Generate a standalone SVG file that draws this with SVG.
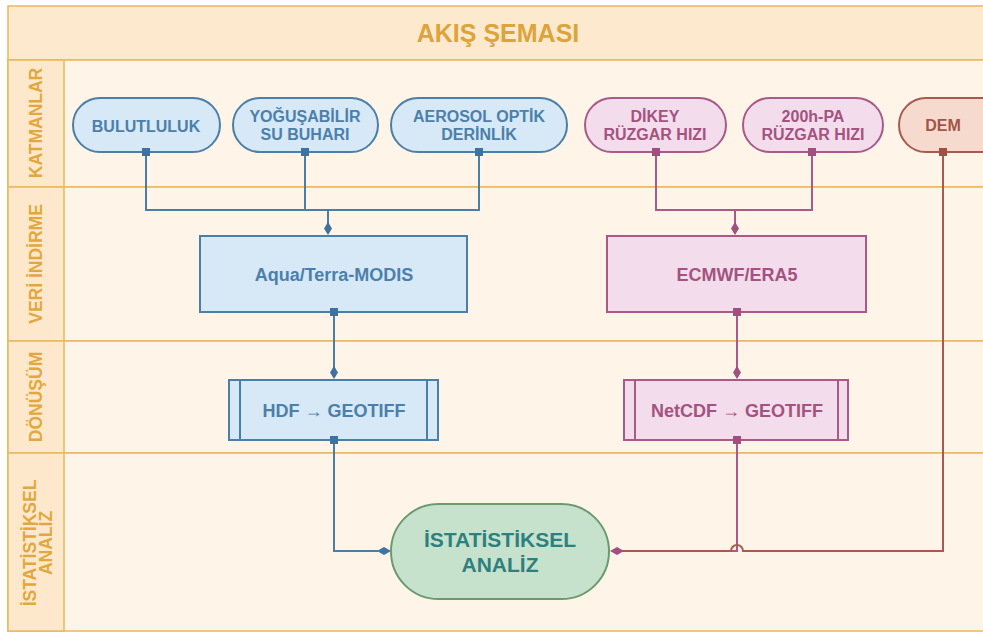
<svg xmlns="http://www.w3.org/2000/svg" width="983" height="633" viewBox="0 0 983 633">
<style>
.lane{fill:#fef5e8;stroke:#e9b85a;stroke-width:1.5}
.lab{fill:#fde8cb;stroke:#e9b85a;stroke-width:1.5}
.lt{font-family:"Liberation Sans",Arial,sans-serif;font-weight:bold;font-size:17.5px;fill:#e2a840;text-anchor:middle}
.t{font-family:"Liberation Sans",Arial,sans-serif;font-weight:bold;text-anchor:middle}
.s16{font-size:16px}
.s18{font-size:18px}
.bn{fill:#d7e8f7;stroke:#4b7fa6;stroke-width:2}
.bt{fill:#4a80ab}
.pn{fill:#f3dcec;stroke:#a85a88;stroke-width:2}
.pt{fill:#a4527f}
.dn{fill:#f6dace;stroke:#a85a50;stroke-width:2}
.dt{fill:#a4544a}
.gn{fill:#c6e2cc;stroke:#6b9a6e;stroke-width:2}
.gt{fill:#2e8080;font-size:21px}
.cb{fill:none;stroke:#4a7ea6;stroke-width:2}
.cp{fill:none;stroke:#a85a88;stroke-width:2}
.cd{fill:none;stroke:#a85a50;stroke-width:2}
.fb{fill:#3f72a0}
.fp{fill:#a14f80}
.fd{fill:#a04f45}
</style>
<rect x="0" y="0" width="983" height="633" fill="#ffffff"/>
<g id="pool">
<rect x="8" y="6" width="980" height="54" fill="#fde9cd" stroke="#e9b85a" stroke-width="1.5"/>
<text x="498" y="42" class="t" font-size="25" fill="#dca43a">AKIŞ ŞEMASI</text>
<rect class="lane" x="8" y="60" width="980" height="127"/>
<rect class="lane" x="8" y="187" width="980" height="154"/>
<rect class="lane" x="8" y="341" width="980" height="112"/>
<rect class="lane" x="8" y="453" width="980" height="178"/>
<rect class="lab" x="8" y="60" width="56" height="127"/>
<rect class="lab" x="8" y="187" width="56" height="154"/>
<rect class="lab" x="8" y="341" width="56" height="112"/>
<rect class="lab" x="8" y="453" width="56" height="178"/>
<text class="lt" transform="translate(42,123) rotate(-90)">KATMANLAR</text>
<text class="lt" transform="translate(42,264) rotate(-90)">VERİ İNDİRME</text>
<text class="lt" transform="translate(42,397) rotate(-90)">DÖNÜŞÜM</text>
<text class="lt" transform="translate(36,543) rotate(-90)">İSTATİSTİKSEL</text>
<text class="lt" transform="translate(52,543) rotate(-90)">ANALİZ</text>
</g>
<g id="connectors">
<path class="cb" d="M146,152 V210 H479 V152 M305,152 V210 M328,210 V224"/>
<path class="cb" d="M334,312 V368"/>
<path class="cb" d="M334,440 V551 H378"/>
<path class="cp" d="M656,152 V210 H812 V152 M735,210 V224"/>
<path class="cp" d="M737,312 V368"/>
<path class="cp" d="M737,440 V551 H622"/>
<path class="cd" d="M943,152 V551 H743 A6,6 0 0 0 731,551 H622"/>
<polygon class="fb" points="328,222 332,228.5 328,235 324,228.5"/>
<polygon class="fb" points="334,366 338,372.5 334,379 330,372.5"/>
<polygon class="fb" points="377,551 384,547 391,551 384,555"/>
<polygon class="fp" points="735,222 739,228.5 735,235 731,228.5"/>
<polygon class="fp" points="737,366 741,372.5 737,379 733,372.5"/>
<polygon class="fp" points="624,551 617,547 610,551 617,555"/>
</g>
<g id="n-bulutluluk">
<rect class="bn" x="73" y="98" width="147" height="54" rx="27"/>
<text class="t bt s16" x="146" y="132">BULUTLULUK</text>
<rect class="fb" x="142" y="148" width="8" height="8"/>
</g>
<g id="n-yogusabilir">
<rect class="bn" x="233" y="98" width="145" height="54" rx="27"/>
<text class="t bt s16" x="305" y="122">YOĞUŞABİLİR</text>
<text class="t bt s16" x="305" y="140">SU BUHARI</text>
<rect class="fb" x="301" y="148" width="8" height="8"/>
</g>
<g id="n-aerosol">
<rect class="bn" x="391" y="98" width="176" height="54" rx="27"/>
<text class="t bt s16" x="479" y="122">AEROSOL OPTİK</text>
<text class="t bt s16" x="479" y="140">DERİNLİK</text>
<rect class="fb" x="475" y="148" width="8" height="8"/>
</g>
<g id="n-dikey">
<rect class="pn" x="585" y="98" width="141" height="54" rx="27"/>
<text class="t pt s16" x="655" y="122">DİKEY</text>
<text class="t pt s16" x="655" y="140">RÜZGAR HIZI</text>
<rect class="fp" x="652" y="148" width="8" height="8"/>
</g>
<g id="n-200hpa">
<rect class="pn" x="743" y="98" width="140" height="54" rx="27"/>
<text class="t pt s16" x="813" y="122">200h-PA</text>
<text class="t pt s16" x="813" y="140">RÜZGAR HIZI</text>
<rect class="fp" x="808" y="148" width="8" height="8"/>
</g>
<g id="n-dem">
<rect class="dn" x="899" y="98" width="110" height="54" rx="27"/>
<text class="t dt s16" x="943" y="131">DEM</text>
<rect class="fd" x="939" y="148" width="8" height="8"/>
</g>
<g id="n-modis">
<rect class="bn" x="200" y="236" width="267" height="76"/>
<text class="t bt s18" x="334" y="281">Aqua/Terra-MODIS</text>
<rect class="fb" x="330" y="308" width="8" height="8"/>
</g>
<g id="n-era5">
<rect class="pn" x="607" y="236" width="259" height="76"/>
<text class="t pt s18" x="737" y="281">ECMWF/ERA5</text>
<rect class="fp" x="733" y="308" width="8" height="8"/>
</g>
<g id="n-hdf">
<rect class="bn" x="229" y="380" width="209" height="60"/>
<line class="cb" x1="240" y1="380" x2="240" y2="440"/>
<line class="cb" x1="427" y1="380" x2="427" y2="440"/>
<text class="t bt s18" x="334" y="417">HDF → GEOTIFF</text>
<rect class="fb" x="330" y="436" width="8" height="8"/>
</g>
<g id="n-netcdf">
<rect class="pn" x="624" y="380" width="224" height="60"/>
<line class="cp" x1="635" y1="380" x2="635" y2="440"/>
<line class="cp" x1="838" y1="380" x2="838" y2="440"/>
<text class="t pt s18" x="737" y="417">NetCDF → GEOTIFF</text>
<rect class="fp" x="733" y="436" width="8" height="8"/>
</g>
<g id="n-analiz">
<rect class="gn" x="391" y="504" width="218" height="95" rx="47.5"/>
<text class="t gt" x="500" y="547">İSTATİSTİKSEL</text>
<text class="t gt" x="500" y="572">ANALİZ</text>
</g>
</svg>
